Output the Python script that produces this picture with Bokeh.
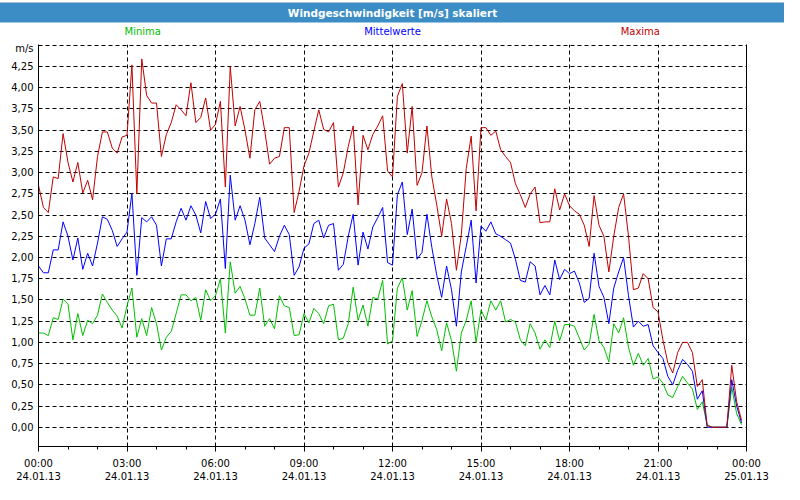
import pandas as pd
from datetime import datetime
from bokeh.plotting import figure
from bokeh.layouts import column
from bokeh.models import (Range1d, FixedTicker, DatetimeTickFormatter, LinearAxis,
                          ColumnDataSource, Title)
from bokeh.core.properties import value
from bokeh.embed import file_html
from bokeh.resources import INLINE

# ---- data (10-minute values, 24.01.13 00:00 .. 23:50) ----
start_time = "2013-01-24 00:00"

maxima = [2.85, 2.59, 2.53, 2.95, 2.93, 3.46, 3.12, 2.89, 3.12, 2.76, 2.91, 2.68,
          3.19, 3.48, 3.48, 3.29, 3.23, 3.42, 3.44, 4.27, 2.75, 4.34, 3.91, 3.82,
          3.82, 3.19, 3.45, 3.59, 3.80, 3.74, 3.67, 4.06, 3.59, 3.65, 3.88, 3.50,
          3.57, 3.84, 2.83, 4.25, 3.55, 3.78, 3.50, 3.17, 3.74, 3.84, 3.50, 3.10,
          3.17, 3.19, 3.53, 3.53, 2.53, 2.78, 3.08, 3.23, 3.49, 3.74, 3.51, 3.48,
          3.59, 2.83, 3.00, 3.31, 3.55, 2.62, 3.44, 3.27, 3.45, 3.55, 3.67, 3.02,
          2.95, 3.90, 4.05, 3.23, 3.78, 2.85, 3.00, 3.55, 2.95, 2.62, 2.25, 2.69,
          2.40, 1.85, 2.27, 3.05, 3.43, 2.55, 3.53, 3.53, 3.44, 3.49, 3.27, 3.19,
          3.12, 2.87, 2.74, 2.59, 2.75, 2.83, 2.41, 2.42, 2.42, 2.81, 2.56, 2.75,
          2.61, 2.55, 2.51, 2.38, 2.13, 2.73, 2.38, 2.25, 1.83, 2.25, 2.59, 2.75,
          2.25, 1.62, 1.64, 1.81, 1.75, 1.41, 1.36, 1.03, 0.76, 0.64, 0.88, 1.00,
          1.00, 0.88, 0.48, 0.56, 0.02, 0.00, 0.00, 0.00, 0.00, 0.73, 0.30, 0.08]

mittelwerte = [1.90, 1.82, 1.82, 2.09, 2.09, 2.42, 2.25, 1.97, 2.23, 1.86, 2.05, 1.90,
               2.17, 2.48, 2.45, 2.32, 2.13, 2.22, 2.30, 2.76, 1.79, 2.47, 2.42, 2.48,
               2.38, 1.90, 2.22, 2.22, 2.42, 2.58, 2.44, 2.61, 2.50, 2.29, 2.66, 2.46,
               2.51, 2.69, 1.87, 2.97, 2.44, 2.61, 2.44, 2.15, 2.40, 2.71, 2.23, 2.15,
               2.07, 2.25, 2.38, 2.27, 1.79, 1.89, 2.11, 2.16, 2.40, 2.44, 2.23, 2.38,
               2.40, 1.85, 1.92, 2.25, 2.51, 1.91, 2.30, 2.10, 2.36, 2.47, 2.59, 1.94,
               1.91, 2.74, 2.89, 2.27, 2.57, 1.98, 2.06, 2.51, 2.12, 1.79, 1.53, 1.90,
               1.62, 1.19, 1.83, 2.13, 2.44, 1.70, 2.37, 2.31, 2.42, 2.28, 2.25, 2.21,
               2.17, 1.98, 1.73, 1.71, 1.95, 1.90, 1.56, 1.67, 1.56, 1.97, 1.74, 1.86,
               1.81, 1.84, 1.70, 1.47, 1.52, 2.05, 1.66, 1.53, 1.22, 1.64, 1.83, 2.00,
               1.55, 1.18, 1.25, 1.19, 1.21, 0.96, 0.88, 0.81, 0.60, 0.50, 0.67, 0.80,
               0.74, 0.66, 0.33, 0.43, 0.00, 0.00, 0.00, 0.00, 0.00, 0.56, 0.25, 0.05]

minima = [1.11, 1.11, 1.08, 1.29, 1.27, 1.51, 1.45, 1.03, 1.34, 1.08, 1.26, 1.22,
          1.32, 1.57, 1.47, 1.38, 1.31, 1.17, 1.43, 1.64, 1.06, 1.28, 1.08, 1.41,
          1.22, 0.91, 1.06, 1.13, 1.34, 1.56, 1.56, 1.49, 1.53, 1.26, 1.62, 1.49,
          1.55, 1.75, 1.11, 1.95, 1.58, 1.66, 1.51, 1.32, 1.32, 1.64, 1.19, 1.28,
          1.16, 1.55, 1.43, 1.41, 1.08, 1.09, 1.34, 1.23, 1.40, 1.34, 1.22, 1.43,
          1.45, 1.03, 1.05, 1.22, 1.65, 1.26, 1.44, 1.19, 1.53, 1.51, 1.73, 0.98,
          1.02, 1.64, 1.76, 1.38, 1.61, 1.07, 1.26, 1.49, 1.30, 1.15, 0.90, 1.23,
          1.02, 0.66, 1.11, 1.26, 1.49, 1.00, 1.38, 1.26, 1.49, 1.38, 1.49, 1.24,
          1.27, 1.24, 1.03, 0.96, 1.22, 1.11, 0.92, 1.03, 0.94, 1.25, 1.02, 1.21,
          1.21, 1.19, 1.05, 0.91, 0.98, 1.33, 1.02, 0.94, 0.77, 1.22, 1.11, 1.29,
          0.94, 0.73, 0.87, 0.73, 0.81, 0.57, 0.59, 0.52, 0.38, 0.35, 0.48, 0.60,
          0.52, 0.45, 0.21, 0.30, 0.03, 0.00, 0.00, 0.00, 0.00, 0.47, 0.16, 0.03]

series_names = ["Minima", "Mittelwerte", "Maxima"]
series_colors = ["#00c000", "#0000ff", "#c00000"]

y_ticks = [0.0, 0.25, 0.5, 0.75, 1.0, 1.25, 1.5, 1.75, 2.0, 2.25, 2.5, 2.75,
           3.0, 3.25, 3.5, 3.75, 4.0, 4.25, 4.5]
y_tick_labels = ["0,00", "0,25", "0,50", "0,75", "1,00", "1,25", "1,50", "1,75",
                 "2,00", "2,25", "2,50", "2,75", "3,00", "3,25", "3,50", "3,75",
                 "4,00", "4,25", "m/s"]

title_text = "Windgeschwindigkeit [m/s] skaliert"

# ---- layout constants ----
W = 784
HEAD_H = 42
MAIN_H = 442
FONT = "DejaVu Sans"
BAR = "#3c8dc5"

x_range = Range1d(datetime(2013, 1, 24, 0, 0), datetime(2013, 1, 25, 0, 0))

# ---- header (title bar + series labels), frame aligned with the chart ----
head = figure(width=W, height=HEAD_H, output_backend="svg", toolbar_location=None,
              x_range=x_range, y_range=Range1d(0, 1),
              min_border=0, min_border_left=0, min_border_right=0,
              min_border_top=0, min_border_bottom=0,
              x_axis_location=None, y_axis_location=None, title=None)
head.outline_line_color = None
head.grid.visible = False
head.background_fill_color = "white"
head.border_fill_color = "white"
head.add_layout(Title(text=title_text, align="center", text_color="white",
                      text_font=FONT, text_font_style="bold", text_font_size="10.5px",
                      background_fill_color=BAR, background_fill_alpha=1,
                      padding=dict(left=420, right=420, top=4, bottom=4),
                      standoff=0, offset=0), "above")

legend_x = [datetime(2013, 1, 24, 3, 32), datetime(2013, 1, 24, 12, 0),
            datetime(2013, 1, 24, 20, 24)]
legend_src = ColumnDataSource(dict(x=legend_x, y=[0.55, 0.55, 0.55],
                                   text=series_names, color=series_colors))
head.text(x="x", y="y", text="text", text_color="color", source=legend_src,
          text_align="center", text_baseline="middle", text_font=value(FONT),
          text_font_size="10px")

# ---- main chart ----
times = pd.date_range(start_time, periods=len(maxima), freq="10min")
src = ColumnDataSource(dict(t=times, minima=minima, mittel=mittelwerte, maxima=maxima))

x_major = pd.date_range("2013-01-24 00:00", "2013-01-25 00:00", freq="3h")
x_minor = pd.date_range("2013-01-24 00:00", "2013-01-25 00:00", freq="1h")
x_major_ms = [float(v // 10**6) for v in x_major.asi8]
x_minor_ms = [float(v // 10**6) for v in x_minor.asi8]

p = figure(width=W, height=MAIN_H, output_backend="svg", toolbar_location=None,
           x_axis_type="datetime", x_range=x_range,
           y_range=Range1d(-0.227, 4.51),
           min_border_left=38, min_border_right=38, min_border_top=2,
           min_border_bottom=38)
p.outline_line_color = None
p.background_fill_color = "white"
p.border_fill_color = "white"

xa = p.xaxis[0]
xa.ticker = FixedTicker(ticks=x_major_ms, minor_ticks=x_minor_ms)
fmt = "%H:%M\n%d.%m.%y"
xa.formatter = DatetimeTickFormatter(hours=fmt, hourmin=fmt, days=fmt, minutes=fmt,
                                     minsec=fmt, months=fmt, years=fmt)
xa.major_tick_out = 5
xa.major_tick_in = 0
xa.minor_tick_out = 3
xa.minor_tick_in = 0
xa.axis_line_color = "black"
xa.major_tick_line_color = "black"
xa.minor_tick_line_color = "black"
xa.major_label_standoff = 6
xa.major_label_text_font = FONT
xa.major_label_text_font_size = "10px"
xa.major_label_text_color = "black"

ya = p.yaxis[0]
ya.ticker = FixedTicker(ticks=y_ticks)
ya.major_label_overrides = dict(zip(y_ticks, y_tick_labels))
ya.major_tick_out = 0
ya.major_tick_in = 0
ya.minor_tick_out = 0
ya.minor_tick_in = 0
ya.axis_line_color = "black"
ya.major_label_standoff = 5
ya.major_label_text_font = FONT
ya.major_label_text_font_size = "10px"
ya.major_label_text_color = "black"

ra = LinearAxis(ticker=FixedTicker(ticks=[0.0]), major_tick_out=0, major_tick_in=0,
                minor_tick_out=0, minor_tick_in=0, major_label_text_color=None,
                major_label_text_font_size="1px", axis_line_color="black",
                axis_line_width=1)
p.add_layout(ra, "right")

for g in (p.xgrid[0], p.ygrid[0]):
    g.grid_line_color = "black"
    g.grid_line_dash = "4 3"
    g.grid_line_width = 1
    g.grid_line_alpha = 1

p.line("t", "minima", source=src, line_color=series_colors[0], line_width=1)
p.line("t", "mittel", source=src, line_color=series_colors[1], line_width=1)
p.line("t", "maxima", source=src, line_color=series_colors[2], line_width=1)

layout = column(head, p, spacing=0)

open("out.html", "w").write(file_html(layout, INLINE))
